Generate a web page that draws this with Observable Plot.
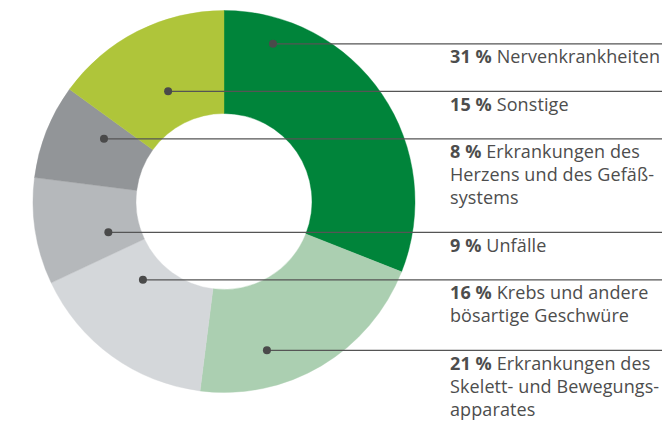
<!DOCTYPE html>
<html>
<head>
<meta charset="utf-8">
<script src="https://cdn.jsdelivr.net/npm/d3@7"></script>
<script src="https://cdn.jsdelivr.net/npm/@observablehq/plot@0.6"></script>
<style>
  html, body { margin: 0; padding: 0; background: #fff; }
  #chart svg { display: block; }
</style>
</head>
<body>
<div id="chart"></div>
<script>
// ---- Data (clockwise from 12 o'clock) ----
const categories = [
  "Nervenkrankheiten",
  "Erkrankungen des Skelett- und Bewegungsapparates",
  "Krebs und andere bösartige Geschwüre",
  "Unfälle",
  "Erkrankungen des Herzens und des Gefäßsystems",
  "Sonstige"
];
const shares = [31, 21, 16, 9, 8, 15];
// label text as broken into lines in the reference
const labelLines = [
  ["Nervenkrankheiten"],
  ["Erkrankungen des", "Skelett- und Bewegungs-", "apparates"],
  ["Krebs und andere", "bösartige Geschwüre"],
  ["Unfälle"],
  ["Erkrankungen des", "Herzens und des Gefäß-", "systems"],
  ["Sonstige"]
];
// order of the labels, top to bottom
const legendOrder = [0, 5, 4, 3, 2, 1];
const palette = ["#00843a", "#abcfb1", "#d4d7da", "#b5b8bb", "#929598", "#afc53a"];

// ---- Layout ----
const W = 664, H = 421;
const CX = 224, CY = 201.5, R_OUT = 191, R_IN = 88;
const LABEL_X = 450, LINE_END = 662;
const ROW_TOP = 43.3, LINE_H = 23, ROW_GAP = 24.5, BASELINE_OFF = 20;
const FONT = "'Open Sans', 'DejaVu Sans', sans-serif";
const INK = "#4d4d4d";

const rows = categories.map((c, i) => ({category: c, share: shares[i], lines: labelLines[i]}));
const arcs = d3.pie().sort(null).value(d => d.share)(rows);
const color = Plot.scale({color: {type: "ordinal", domain: categories, range: palette}});

// anchor dot: on the label row, at the middle of the angular span the row covers inside the slice
function anchorX(a, py) {
  const dy = py - CY;
  const span = a.endAngle - a.startAngle;
  let amin = Infinity, amax = -Infinity;
  for (let px = CX - R_OUT; px <= CX + R_OUT; px += 0.25) {
    const dx = px - CX, r = Math.hypot(dx, dy);
    if (r < R_IN || r > R_OUT) continue;
    const ang = Math.atan2(dx, -dy);
    const rel = (((ang - a.startAngle) % (2 * Math.PI)) + 2 * Math.PI) % (2 * Math.PI);
    if (rel > span) continue;
    amin = Math.min(amin, rel); amax = Math.max(amax, rel);
  }
  const am = a.startAngle + (amin + amax) / 2;
  const r = -dy / Math.cos(am);
  return CX + r * Math.sin(am);
}

let cursor = ROW_TOP;
const legendRows = legendOrder.map(i => {
  const y = cursor;
  cursor += labelLines[i].length * LINE_H + ROW_GAP;
  return {...rows[i], y, x1: anchorX(arcs[i], y), x2: LINE_END};
});

function donutMark(index, scales) {
  const x0 = scales.x(CX), y0 = scales.y(CY);
  const k = scales.x(CX + 1) - scales.x(CX);
  const arc = d3.arc().innerRadius(R_IN * k).outerRadius(R_OUT * k);
  const g = d3.create("svg:g").attr("transform", `translate(${x0},${y0})`);
  g.selectAll("path").data(arcs).join("path")
    .attr("d", arc)
    .attr("fill", d => color.apply(d.data.category))
    .attr("stroke", d => color.apply(d.data.category))
    .attr("stroke-width", 0.4);
  return g.node();
}

function labelMark(index, scales) {
  const g = d3.create("svg:g")
    .attr("font-family", FONT).attr("font-size", 18).attr("fill", INK)
    .attr("text-anchor", "start").attr("letter-spacing", 0.1);
  for (const row of legendRows) {
    const t = g.append("text");
    row.lines.forEach((line, j) => {
      const yy = scales.y(row.y + BASELINE_OFF + j * LINE_H);
      if (j === 0) {
        t.append("tspan").attr("x", scales.x(LABEL_X)).attr("y", yy)
          .attr("font-weight", 700).text(`${row.share} %`);
        t.append("tspan").text(" " + line);
      } else {
        t.append("tspan").attr("x", scales.x(LABEL_X)).attr("y", yy).text(line);
      }
    });
  }
  return g.node();
}

const chart = Plot.plot({
  width: W, height: H, margin: 0,
  x: {domain: [0, W], range: [0, W], axis: null},
  y: {domain: [0, H], range: [0, H], axis: null},
  style: {background: "#fff"},
  marks: [
    donutMark,
    Plot.ruleY(legendRows, {y: "y", x1: "x1", x2: "x2", stroke: "#555", strokeWidth: 1.2}),
    Plot.dot(legendRows, {x: "x1", y: "y", r: 4, fill: "#4a4a4a", stroke: "none"}),
    labelMark
  ]
});
document.getElementById("chart").append(chart);
</script>
</body>
</html>
